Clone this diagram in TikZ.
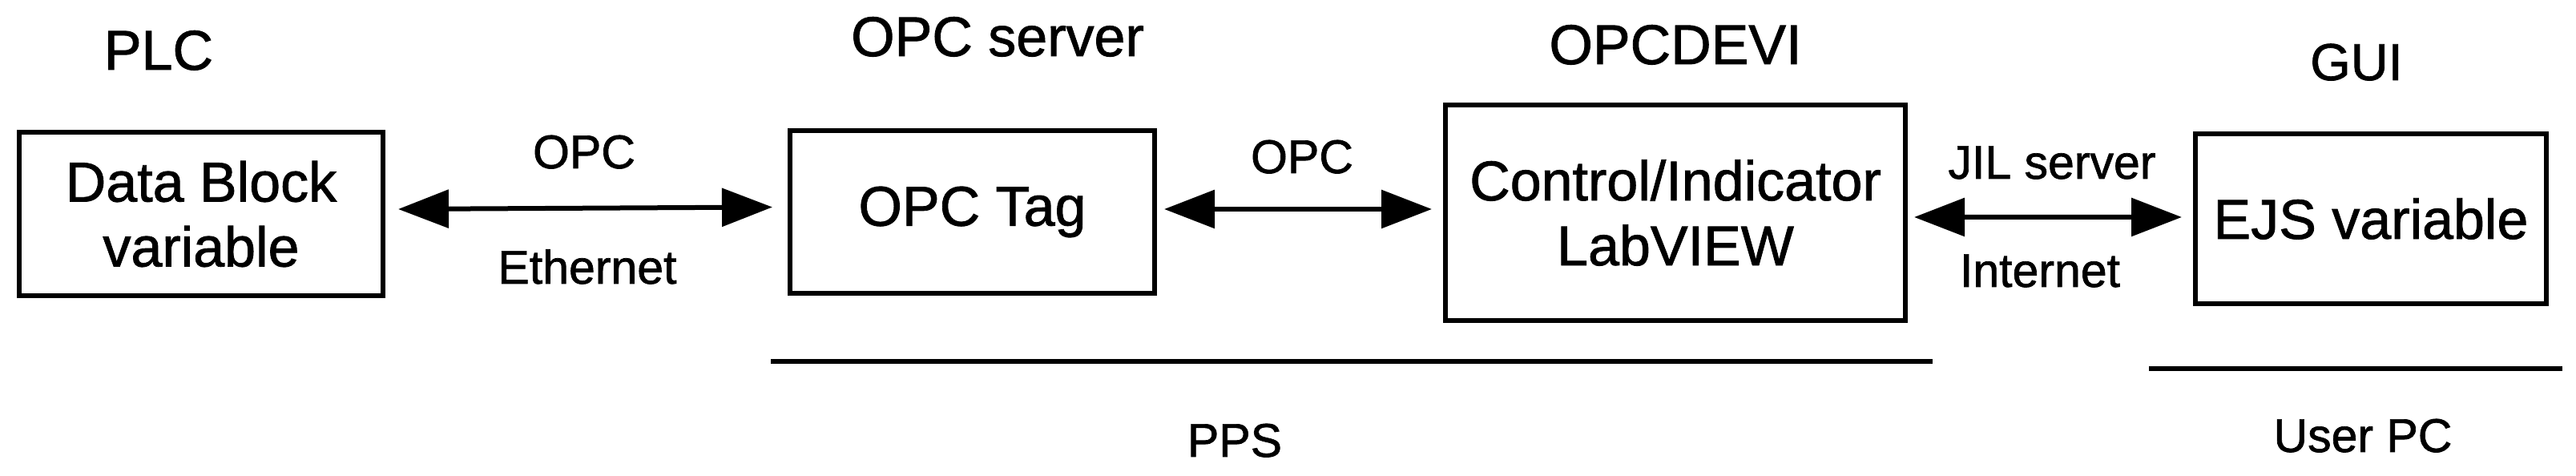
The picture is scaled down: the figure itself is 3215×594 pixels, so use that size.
\documentclass[tikz,border=0pt]{standalone}
\usepackage{fontspec}
\setmainfont{Liberation Sans}[BoldFont=Liberation Sans,BoldFeatures={FakeBold=1.2}]
\usetikzlibrary{arrows.meta}
\begin{document}
\begin{tikzpicture}[x=0.2pt,y=-0.2pt,
  box/.style={draw,line width=1.2pt,inner sep=0pt,align=center,font=\fontsize{14}{16.2}\selectfont\bfseries},
  title/.style={anchor=base,inner sep=0pt,font=\fontsize{14}{16}\selectfont\bfseries},
  lbl/.style={anchor=base,inner sep=0pt,font=\fontsize{11.8}{14}\selectfont\bfseries},
  biarrow/.style={line width=1.2pt,{Triangle[length=12.6pt,width=9.4pt]}-{Triangle[length=12.6pt,width=9.4pt]}},
  sepline/.style={line width=1.3pt}]
\useasboundingbox (0,0) rectangle (3215,594);
% boxes
\node[box,minimum width=90.8pt,minimum height=40.8pt] (db) at (251,267) {Data Block\\variable};
\node[box,minimum width=91pt,minimum height=40.6pt] (tag) at (1213.5,264.5) {OPC Tag};
\node[box,minimum width=114.8pt,minimum height=53.8pt] (ctl) at (2091,265.5) {Control/Indicator\\LabVIEW};
\node[box,minimum width=87.6pt,minimum height=42.4pt] (ejs) at (2959,273) {EJS variable};
% titles
\node[title] (tplc) at (198,87) {PLC};
\node[title] (topc) at (1245,70) {OPC server};
\node[title] (tdevi) at (2091,80) {OPCDEVI};
\node[title,font=\fontsize{13}{15}\selectfont\bfseries] (tgui) at (2941,100) {GUI};
% arrows
\draw[biarrow] ([shift={(16,-6)}]db.east) -- ([shift={(-19,-6)}]tag.west);
\draw[biarrow] ([shift={(9,-3.5)}]tag.east) -- ([shift={(-14,-4.5)}]ctl.west);
\draw[biarrow] ([shift={(8,5.5)}]ctl.east) -- ([shift={(-14,-2)}]ejs.west);
% arrow labels
\node[lbl] (l1) at (729,210) {OPC};
\node[lbl] (l2) at (733,354) {Ethernet};
\node[lbl] (l3) at (1625,216) {OPC};
\node[lbl] (l4) at (2561,223) {JIL server};
\node[lbl] (l5) at (2546,358) {Internet};
% separator lines
\coordinate (ppsA) at (962,451);
\coordinate (ppsB) at (2412,451);
\coordinate (pcA) at (2682,460);
\coordinate (pcB) at (3198,460);
\draw[sepline] (ppsA) -- (ppsB);
\draw[sepline] (pcA) -- (pcB);
\node[lbl] (pps) at (1541,570) {PPS};
\node[lbl] (upc) at (2949,564) {User PC};
\end{tikzpicture}
\end{document}
